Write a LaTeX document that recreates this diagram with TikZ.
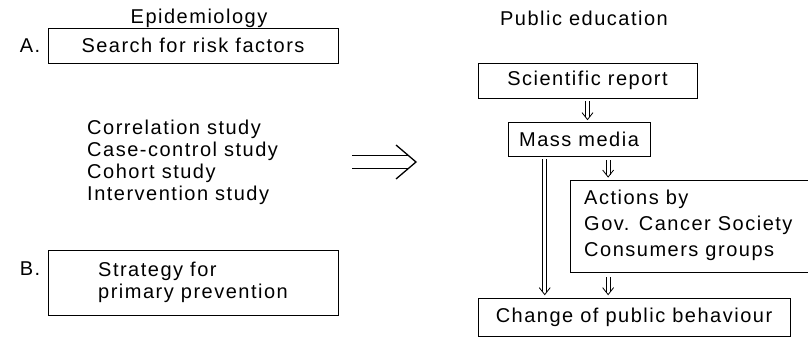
\documentclass[tikz,border=0pt]{standalone}
\usepackage{fontspec}
\setmainfont{Liberation Sans}[LetterSpace=7.5]
\usetikzlibrary{calc}
% #1 = start coordinate, #2 = tip coordinate (double shaft, open V head)
\newcommand\dnarrow[2]{%
  \draw[vhead] ($(#1)+(-1.9,0)$) -- ($(#2)+(-1.9,-2.4)$);
  \draw[vhead] ($(#1)+(1.9,0)$) -- ($(#2)+(1.9,-2.4)$);
  \draw[vhead] ($(#2)+(-5.5,-7)$) -- (#2) -- ($(#2)+(5.5,-7)$);}
\begin{document}
\begin{tikzpicture}[x=1pt,y=-1pt,
  font=\fontsize{20}{22}\selectfont,
  box/.style={draw, line width=0.8pt, inner sep=0pt},
  lbl/.style={inner sep=0pt},
  frame/.style={line width=0.8pt},
  vhead/.style={line width=0.8pt},
  bigshaft/.style={double, double distance=12pt, line width=1.3pt},
  bighead/.style={line width=1.3pt}]
\useasboundingbox (0,0) rectangle (808,345);

% titles
\node[lbl] (tepi) at (199,18) {Epidemiology};
\node[lbl] (tpub) at (584,18) {Public education};

% left column
\node[lbl] (la) at (30,46) {A.};
\node[box, minimum width=290, minimum height=35] (boxA) at (193,45.5) {Search for risk factors};
\node[lbl, align=left, anchor=north west] (list) at (87,120)
  {Correlation study\\Case-control study\\Cohort study\\Intervention study};
\node[lbl] (lb) at (30,269) {B.};
\node[box, minimum width=290, minimum height=65, align=left] (boxB) at (193,282.5)
  {Strategy for\\primary prevention};

% big arrow
\coordinate (ba1) at (352,162);
\coordinate (ba2) at (416,162);
\draw[bigshaft, shorten >=8pt] (ba1) -- (ba2);
\draw[bighead] ($(ba2)+(-20,-17)$) -- (ba2) -- ($(ba2)+(-20,17)$);

% right column
\node[box, minimum width=219, minimum height=35] (sci) at (587.5,80.5) {Scientific report};
\node[box, minimum width=142, minimum height=34] (mass) at (579,139) {Mass media};
\node[lbl, minimum width=250, minimum height=92, anchor=north west] (act) at (570,180) {};
\draw[frame] (act.north east) -- (act.north west) -- (act.south west) -- (act.south east);
\node[lbl, align=left, anchor=west, font=\fontsize{20}{26}\selectfont] (acttxt) at (584,225)
  {Actions by\\Gov. Cancer Society\\Consumers groups};
\node[box, minimum width=312, minimum height=38] (chg) at (634,317) {Change of public behaviour};

% connectors
\coordinate (m1) at ($(mass.south west)!0.26!(mass.south east)$);
\coordinate (m2) at ($(mass.south west)!0.704!(mass.south east)$);

\coordinate (s1) at ($(sci.south)+(0,3)$);
\coordinate (t1) at ($(sci.south |- mass.north)+(0,-2)$);
\dnarrow{s1}{t1}

\coordinate (s2) at ($(m2)+(0,4)$);
\coordinate (t2) at ($(m2 |- act.north)+(0,-3)$);
\dnarrow{s2}{t2}

\coordinate (s3) at ($(m1)+(0,3)$);
\coordinate (t3) at ($(m1 |- chg.north)+(0,-3)$);
\dnarrow{s3}{t3}

\coordinate (s4) at ($(m2 |- act.south)+(0,5)$);
\coordinate (t4) at ($(m2 |- chg.north)+(0,-3)$);
\dnarrow{s4}{t4}
\end{tikzpicture}
\end{document}
